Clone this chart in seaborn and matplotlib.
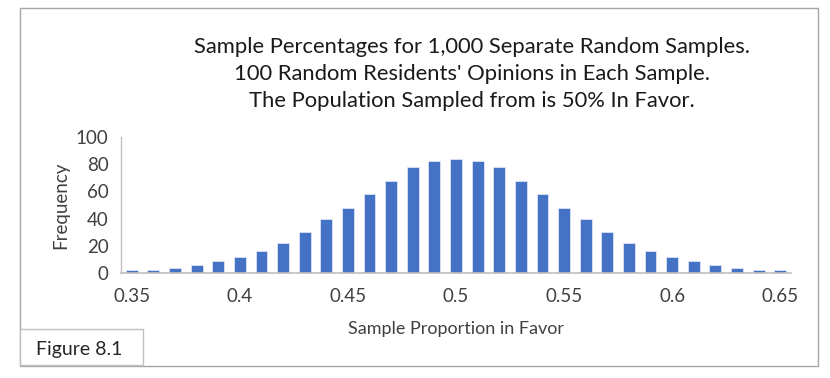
import matplotlib
matplotlib.use("Agg")
import matplotlib.pyplot as plt
import matplotlib.patches as patches
import seaborn as sns

# sample proportions (categories) and how many of the 1,000 samples fell in each
proportions = [0.35, 0.36, 0.37, 0.38, 0.39, 0.40, 0.41, 0.42, 0.43, 0.44, 0.45,
               0.46, 0.47, 0.48, 0.49, 0.50, 0.51, 0.52, 0.53, 0.54, 0.55,
               0.56, 0.57, 0.58, 0.59, 0.60, 0.61, 0.62, 0.63, 0.64, 0.65]
frequency = [2, 2, 4, 6, 9, 12, 16, 22, 30, 40, 48,
             58, 68, 78, 82, 84, 82, 78, 68, 58, 48,
             40, 30, 22, 16, 12, 9, 6, 4, 2, 2]
tick_labels = ["0.35", "0.4", "0.45", "0.5", "0.55", "0.6", "0.65"]

sns.set_style("white")
plt.rcParams['font.family'] = ['Lato', 'DejaVu Sans']

W, H = 830, 378
fig = plt.figure(figsize=(W / 100, H / 100), dpi=100)
ax = fig.add_axes([121 / W, 1 - 273 / H, (791 - 121) / W, (273 - 137) / H])

cats = [f"{p:.2f}" for p in proportions]
sns.barplot(x=cats, y=frequency, color="#4472C4", width=0.55, saturation=1,
            edgecolor="#dbe4f5", linewidth=0.6, ax=ax)

ax.set_ylim(0, 100)
ax.set_xlim(-0.5, len(cats) - 0.5)
ax.set_yticks(range(0, 101, 20))
ax.set_xticks(range(0, len(cats), 5))
ax.set_xticklabels(tick_labels)
ax.tick_params(axis="y", direction="out", length=5, color="#bfbfbf", width=1,
               labelsize=13.5, labelcolor="#404040", pad=4)
ax.tick_params(axis="x", length=0, labelsize=13.5, labelcolor="#404040", pad=11)

for s in ["top", "right"]:
    ax.spines[s].set_visible(False)
ax.spines["left"].set_color("#bfbfbf")
ax.spines["bottom"].set_color("#bfbfbf")
ax.spines["left"].set_linewidth(1)
ax.spines["bottom"].set_linewidth(1.2)

ax.set_xlabel("Sample Proportion in Favor", fontsize=13, color="#404040", labelpad=11)
ax.set_ylabel("Frequency", fontsize=13.5, color="#404040", labelpad=5)

# three line title
fig.text(472 / W, 1 - 74 / H,
         "Sample Percentages for 1,000 Separate Random Samples.\n"
         "100 Random Residents' Opinions in Each Sample.\n"
         "The Population Sampled from is 50% In Favor.",
         ha="center", va="center", fontsize=15.8, color="#1a1a1a", linespacing=1.42)

# outer frame and the "Figure 8.1" caption box
fig.patches.append(patches.Rectangle((20 / W, 1 - 366 / H), (818 - 20) / W, (366 - 8) / H,
                                     transform=fig.transFigure, fill=False,
                                     edgecolor="#a6a6a6", linewidth=1))
fig.patches.append(patches.Rectangle((20 / W, 1 - 365 / H), (143 - 20) / W, (365 - 329) / H,
                                     transform=fig.transFigure, facecolor="white",
                                     edgecolor="#bfbfbf", linewidth=1))
fig.text(36 / W, 1 - 350 / H, "Figure 8.1", ha="left", va="center",
         fontsize=14, color="#262626")

plt.savefig("out.png", dpi=100)
